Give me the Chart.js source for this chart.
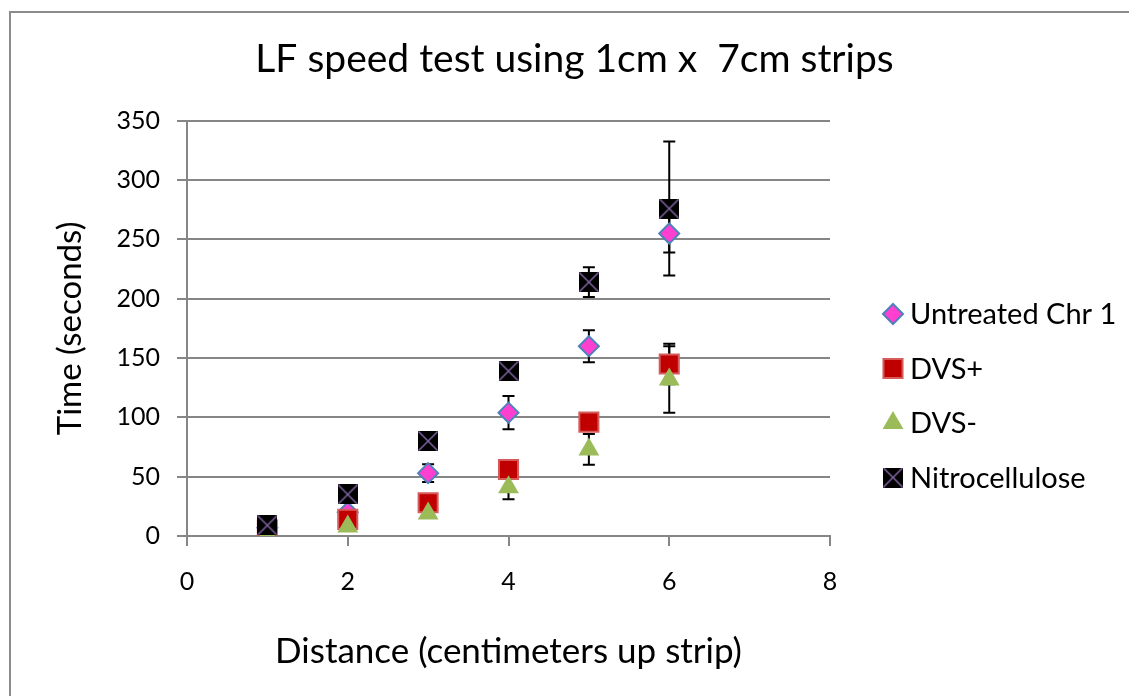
<!DOCTYPE html>
<html>
<head>
<meta charset="utf-8">
<script src="https://cdn.jsdelivr.net/npm/chart.js@4.4.1/dist/chart.umd.min.js"></script>
<style>
  html, body { margin: 0; padding: 0; background: #fff; }
  #wrap { position: relative; width: 1129px; height: 696px; overflow: hidden; }
  #frame { position: absolute; left: 9px; top: 11px; width: 1300px; height: 900px;
           border-left: 2px solid #8c8c8c; border-top: 2px solid #8c8c8c; }
  canvas { position: absolute; left: 0; top: 0; }
</style>
</head>
<body>
<div id="wrap">
  <div id="frame"></div>
  <canvas id="chart" width="1129" height="696"></canvas>
</div>
<script>
// distance up the strip (cm)
const distances = [1, 2, 3, 4, 5, 6];

// time in seconds
const untreated = [7, 20, 53, 104, 160, 255];
const dvsPlus = [5, 14, 28, 56, 96, 145];
const dvsMinus = [2, 8, 19, 41, 73, 132];
const nitro = [9, 35, 80, 139, 214, 276];

// +/- error for each point
const untreatedErr = [2, 3, 7.5, 14, 13.5, 16];
const dvsPlusErr = [1, 2, 2, 3, 3, 17];
const dvsMinusErr = [1, 1, 2, 10, 13, 28];
const nitroErr = [1, 2, 2, 2, 12.5, 56.5];

const seriesLabels = ['Untreated Chr 1', 'DVS+', 'DVS-', 'Nitrocellulose'];
const yTicks = [0, 50, 100, 150, 200, 250, 300, 350];
const xTicks = [0, 2, 4, 6, 8];

const errorLists = [untreatedErr, dvsPlusErr, dvsMinusErr, nitroErr];

const toPoints = (ys) => distances.map((d, i) => ({ x: d, y: ys[i] }));

// black box with a purple cross, used for the nitrocellulose markers
function nitroMarker() {
  const c = document.createElement('canvas');
  c.width = 20;
  c.height = 20;
  const g = c.getContext('2d');
  g.fillStyle = '#000';
  g.fillRect(0, 0, 20, 20);
  g.strokeStyle = '#8064a2';
  g.lineWidth = 1.5;
  g.beginPath();
  g.moveTo(0.5, 0.5); g.lineTo(19.5, 19.5);
  g.moveTo(19.5, 0.5); g.lineTo(0.5, 19.5);
  g.stroke();
  return c;
}
const nitroImg = nitroMarker();

const errorBars = {
  id: 'errorBars',
  beforeDatasetsDraw(chart) {
    const { ctx } = chart;
    const x = chart.scales.x;
    const y = chart.scales.y;
    ctx.save();
    ctx.strokeStyle = '#000';
    ctx.lineWidth = 2;
    chart.data.datasets.forEach((ds, di) => {
      const errs = errorLists[di];
      ds.data.forEach((p, i) => {
        const px = x.getPixelForValue(p.x);
        const top = y.getPixelForValue(p.y + errs[i]);
        const bot = y.getPixelForValue(p.y - errs[i]);
        ctx.beginPath();
        ctx.moveTo(px, top); ctx.lineTo(px, bot);
        ctx.moveTo(px - 6, top); ctx.lineTo(px + 6, top);
        ctx.moveTo(px - 6, bot); ctx.lineTo(px + 6, bot);
        ctx.stroke();
      });
    });
    ctx.restore();
  }
};

// legend sits to the right of the plot, drawn by hand
const sideLegend = {
  id: 'sideLegend',
  afterDraw(chart) {
    const { ctx, chartArea } = chart;
    const mx = chartArea.right + 63;
    const tx = chartArea.right + 80;
    ctx.save();
    ctx.font = '29px Lato';
    ctx.textBaseline = 'middle';
    ctx.textAlign = 'left';
    chart.data.datasets.forEach((ds, i) => {
      const my = 314 + i * 54.5;
      ctx.fillStyle = ds.pointBackgroundColor;
      ctx.strokeStyle = ds.pointBorderColor;
      ctx.lineWidth = ds.pointBorderWidth;
      Chart.helpers.drawPoint(ctx, {
        pointStyle: ds.pointStyle,
        radius: ds.pointRadius,
        rotation: 0,
        borderWidth: ds.pointBorderWidth
      }, mx, my);
      ctx.fillStyle = '#000';
      ctx.fillText(ds.label, tx, my + 1);
    });
    ctx.restore();
  }
};

Chart.defaults.font.family = 'Lato';
Chart.defaults.color = '#000';

new Chart(document.getElementById('chart'), {
  type: 'scatter',
  data: {
    datasets: [
      {
        label: seriesLabels[0],
        data: toPoints(untreated),
        pointStyle: 'rectRot',
        pointRadius: 10,
        pointBackgroundColor: '#ff3fd0',
        pointBorderColor: '#4f81bd',
        pointBorderWidth: 2,
        order: 3
      },
      {
        label: seriesLabels[1],
        data: toPoints(dvsPlus),
        pointStyle: 'rect',
        pointRadius: 13.5,
        pointBackgroundColor: '#c00000',
        pointBorderColor: '#d65c5c',
        pointBorderWidth: 2,
        order: 2
      },
      {
        label: seriesLabels[2],
        data: toPoints(dvsMinus),
        pointStyle: 'triangle',
        pointRadius: 12,
        pointBackgroundColor: '#9bbb59',
        pointBorderColor: '#9bbb59',
        pointBorderWidth: 0,
        order: 1
      },
      {
        label: seriesLabels[3],
        data: toPoints(nitro),
        pointStyle: nitroImg,
        pointRadius: 10,
        pointBackgroundColor: '#000',
        pointBorderColor: '#8064a2',
        pointBorderWidth: 0,
        order: 0
      }
    ]
  },
  options: {
    responsive: false,
    animation: false,
    events: [],
    layout: { padding: { left: 20, right: 0, top: 0, bottom: 0 } },
    plugins: {
      legend: { display: false },
      tooltip: { enabled: false },
      title: {
        display: true,
        text: 'LF speed test using 1cm x  7cm strips',
        color: '#000',
        font: { family: 'Lato', size: 39, weight: 'normal' },
        padding: { top: 36, bottom: 38 }
      }
    },
    scales: {
      x: {
        type: 'linear',
        min: 0,
        max: 8,
        afterBuildTicks: (s) => { s.ticks = xTicks.map(v => ({ value: v })); },
        afterFit: (s) => { s.height = 160; },
        ticks: { font: { size: 25 }, color: '#000', padding: 21 },
        grid: { drawOnChartArea: false, drawTicks: true, tickLength: 10, color: '#868686', lineWidth: 2 },
        border: { color: '#868686', width: 2 },
        title: {
          display: true,
          text: 'Distance (centimeters up strip)',
          color: '#000',
          font: { size: 35 },
          padding: { top: 0, bottom: 23 }
        }
      },
      y: {
        type: 'linear',
        min: 0,
        max: 350,
        afterBuildTicks: (s) => { s.ticks = yTicks.map(v => ({ value: v })); },
        afterFit: (s) => { s.width = 167; },
        ticks: { font: { size: 25 }, color: '#000', padding: 17 },
        grid: { color: '#868686', lineWidth: 2, tickLength: 10 },
        border: { color: '#868686', width: 2 },
        title: {
          display: true,
          text: 'Time (seconds)',
          color: '#000',
          font: { size: 33 },
          padding: 31
        }
      },
      spacer: {
        type: 'linear',
        position: 'right',
        display: true,
        grid: { display: false, drawTicks: false },
        border: { display: false },
        ticks: { display: false },
        afterFit: (s) => { s.width = 299; }
      }
    }
  },
  plugins: [errorBars, sideLegend]
});
</script>
</body>
</html>
